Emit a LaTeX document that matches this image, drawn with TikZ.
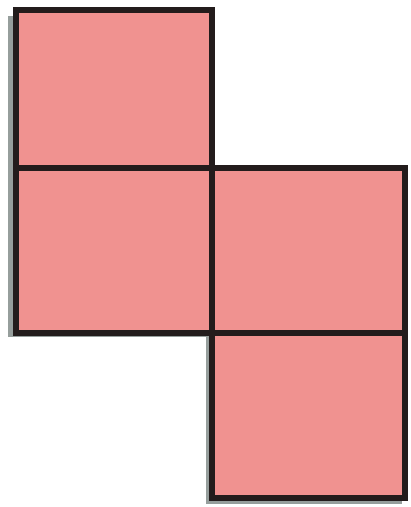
\documentclass[tikz,border=0pt]{standalone}
\definecolor{cellfill}{RGB}{240,146,144}
\definecolor{shadowgray}{RGB}{150,158,156}
\definecolor{edgeblack}{RGB}{35,28,28}
\begin{document}
\begin{tikzpicture}[x=1pt,y=-1pt,
  cell/.style={fill=cellfill,draw=edgeblack,line width=6pt}]
\useasboundingbox (0,0) rectangle (411,507);
% shadows
\fill[shadowgray] (8,16) rectangle (210,337);
\fill[shadowgray] (206,174) rectangle (402,504);
% cells
\draw[cell] (16,10) rectangle (212,168);
\draw[cell] (16,168) rectangle (212,333);
\draw[cell] (212,168) rectangle (405,333);
\draw[cell] (212,333) rectangle (405,498);
\end{tikzpicture}
\end{document}
